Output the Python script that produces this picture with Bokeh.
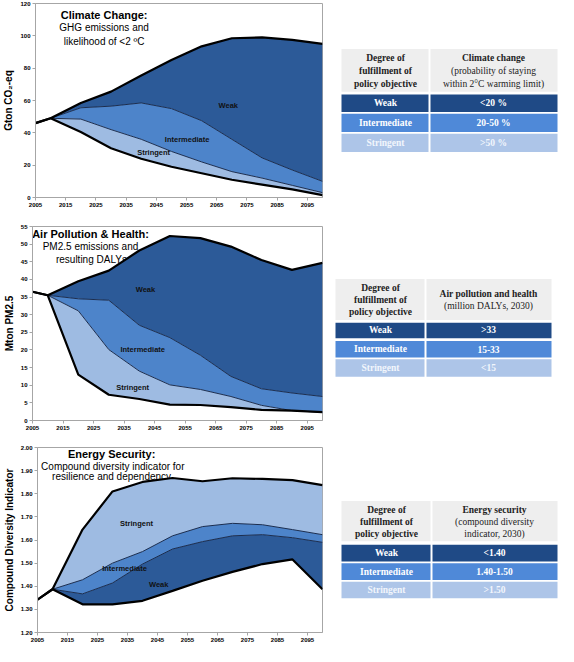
from bokeh.plotting import figure
from bokeh.layouts import column, row
from bokeh.models import Range1d, FixedTicker, PrintfTickFormatter
from bokeh.core.properties import value
from bokeh.embed import file_html
from bokeh.resources import INLINE

# ---------------- data ----------------
years = [2005, 2010, 2020, 2030, 2040, 2050, 2060, 2070, 2080, 2090, 2100]
xticks = [2005, 2015, 2025, 2035, 2045, 2055, 2065, 2075, 2085, 2095]

# Climate change: GHG emissions (Gton CO2-eq), band boundaries
cc_weak_top = [46, 49, 58.5, 65.5, 75.5, 85, 93.5, 98.5, 99, 97.5, 95]
cc_inter_top = [46, 49, 55.5, 56.5, 58.5, 55, 47.5, 36, 24.5, 17, 10]
cc_string_top = [46, 49, 48.5, 42, 36, 28.5, 22, 16, 12, 7.5, 3]
cc_bottom = [46, 49, 40.5, 30.5, 24, 19, 15, 11, 8, 5, 1.5]
cc_yticks = [0, 20, 40, 60, 80, 100, 120]

# Air pollution: PM2.5 emissions (Mton)
ap_weak_top = [36.5, 35.5, 39.5, 42.5, 48.2, 52.3, 51.7, 49.3, 45.5, 42.7, 44.7]
ap_inter_top = [36.5, 35.5, 34.5, 34.1, 27, 23.5, 18.5, 12.5, 9, 7.8, 6.8]
ap_string_top = [36.5, 35.5, 31.1, 20.1, 14, 10.1, 8.8, 6.8, 4.3, 2.8, 2.3]
ap_bottom = [36.5, 35.5, 13, 7.3, 6.1, 4.5, 4.4, 3.8, 3.0, 2.8, 2.4]
ap_yticks = [0, 5, 10, 15, 20, 25, 30, 35, 40, 45, 50, 55]

# Energy security: compound diversity indicator
es_string_top = [1.342, 1.387, 1.645, 1.81, 1.851, 1.868, 1.854, 1.867, 1.864, 1.859, 1.837]
es_inter_top = [1.342, 1.387, 1.428, 1.50, 1.55, 1.618, 1.658, 1.672, 1.666, 1.645, 1.623]
es_weak_top = [1.342, 1.387, 1.367, 1.414, 1.496, 1.561, 1.593, 1.618, 1.623, 1.61, 1.59]
es_bottom = [1.342, 1.387, 1.322, 1.322, 1.337, 1.38, 1.424, 1.462, 1.496, 1.516, 1.387]
es_yticks = [1.2, 1.3, 1.4, 1.5, 1.6, 1.7, 1.8, 1.9, 2.0]

# tables
row_labels = ["Weak", "Intermediate", "Stringent"]
head_left = ["Degree of", "fulfillment of", "policy objective"]
cc_head = ["Climate change", "(probability of staying", "within 2°C warming limit)"]
cc_vals = ["<20 %", "20-50 %", ">50 %"]
ap_head = ["Air pollution and health", "(million DALYs, 2030)"]
ap_vals = [">33", "15-33", "<15"]
es_head = ["Energy security", "(compound diversity", "indicator, 2030)"]
es_vals = ["<1.40", "1.40-1.50", ">1.50"]

# ---------------- style ----------------
C_WEAK = "#2C5A98"
C_INTER = "#4D84CA"
C_STRING = "#9EBBE2"
T_WEAK = "#1F4A86"
T_INTER = "#4F89D8"
T_STRING = "#ADC5E8"
T_HEAD = "#EEEEEE"
SANS = "Liberation Sans"
SERIF = "Liberation Serif"
GRAY = "#A6A6A6"


def make_chart(h, top_b, bottom_b, yr, yticks, fmt, ylabel, bands, inner, outer,
               titles, area_labels):
    p = figure(width=333, height=h, x_range=Range1d(2005, 2100), y_range=Range1d(*yr),
               output_backend="svg", toolbar_location=None,
               min_border_left=30, min_border_right=11,
               min_border_top=top_b, min_border_bottom=bottom_b)
    p.grid.visible = False
    p.outline_line_color = GRAY
    p.background_fill_color = "white"
    p.border_fill_color = "white"
    for ax in (p.xaxis[0], p.yaxis[0]):
        ax.axis_line_color = GRAY
        ax.major_tick_line_color = GRAY
        ax.minor_tick_line_color = None
        ax.major_tick_in = 0
        ax.major_tick_out = 3
        ax.major_label_standoff = 2
        ax.major_label_text_font = SANS
        ax.major_label_text_font_size = "6px"
        ax.major_label_text_font_style = "bold"
        ax.major_label_text_color = "black"
    p.xaxis.ticker = FixedTicker(ticks=xticks)
    p.yaxis.ticker = FixedTicker(ticks=yticks)
    p.yaxis.formatter = PrintfTickFormatter(format=fmt)
    p.yaxis.axis_label = ylabel
    p.yaxis.axis_label_text_font = SANS
    p.yaxis.axis_label_text_font_size = "10px"
    p.yaxis.axis_label_text_font_style = "bold"
    p.yaxis.axis_label_text_color = "black"
    p.yaxis.axis_label_standoff = 3

    # titles first so the areas overlap them
    for i, (tx, ty, txt) in enumerate(titles):
        p.text(x=[tx], y=[ty], text=[txt], text_align="center", text_baseline="middle",
               text_font=value(SANS), text_font_size="11px" if i == 0 else "10px",
               text_font_style="bold" if i == 0 else "normal", text_color="black")

    for y1, y2, col in bands:
        p.varea(x=years, y1=y1, y2=y2, fill_color=col)
    for y in inner:
        p.line(years, y, line_color="#1B2D4F", line_width=1)
    for y in outer:
        p.line(years, y, line_color="black", line_width=2.2)

    for lx, ly, txt in area_labels:
        p.text(x=[lx], y=[ly], text=[txt], text_align="center", text_baseline="middle",
               text_font=value(SANS), text_font_size="7.5px", text_font_style="bold",
               text_color="#111111")
    return p


def make_table(h, L, S, R, head_top, head_bot, left_lines, right_lines, rows, vals, head):
    p = figure(width=225, height=h, x_range=Range1d(0, 225), y_range=Range1d(h, 0),
               output_backend="svg", toolbar_location=None, min_border=0,
               x_axis_location=None, y_axis_location=None)
    p.grid.visible = False
    p.outline_line_color = None
    p.background_fill_color = "white"
    p.border_fill_color = "white"
    # header cells
    p.quad(left=[L, S + 1], right=[S - 1, R], top=[head_top, head_top],
           bottom=[head_bot, head_bot], fill_color=T_HEAD, line_color=None)
    for i, ly in enumerate(left_lines):
        p.text(x=[(L + S) / 2], y=[ly], text=[head_left[i]], text_align="center",
               text_baseline="middle", text_font=value(SERIF), text_font_size="9.5px",
               text_font_style="bold", text_color="#222222")
    for i, ly in enumerate(right_lines):
        p.text(x=[(S + R) / 2], y=[ly], text=[head[i]], text_align="center",
               text_baseline="middle", text_font=value(SERIF), text_font_size="9.5px",
               text_font_style="bold" if i == 0 else "normal", text_color="#222222")
    cols = [T_WEAK, T_INTER, T_STRING]
    tcols = ["white", "white", "#F2F6FC"]
    for i, (rt, rb) in enumerate(rows):
        p.quad(left=[L, S + 1], right=[S - 1, R], top=[rt, rt], bottom=[rb, rb],
               fill_color=cols[i], line_color=None)
        ym = (rt + rb) / 2
        p.text(x=[(L + S) / 2], y=[ym], text=[row_labels[i]], text_align="center",
               text_baseline="middle", text_font=value(SERIF), text_font_size="9.5px",
               text_font_style="bold", text_color=tcols[i])
        p.text(x=[(S + R) / 2], y=[ym], text=[vals[i]], text_align="center",
               text_baseline="middle", text_font=value(SERIF), text_font_size="9.5px",
               text_font_style="bold", text_color=tcols[i])
    return p


# ---------------- panels ----------------
p1 = make_chart(
    213, 3, 16, (0, 120), cc_yticks, "%d", "Gton CO₂-eq",
    [(cc_inter_top, cc_weak_top, C_WEAK), (cc_string_top, cc_inter_top, C_INTER),
     (cc_bottom, cc_string_top, C_STRING)],
    [cc_inter_top, cc_string_top], [cc_weak_top, cc_bottom],
    [(2027.7, 112.9, "Climate Change:"), (2027.7, 105.3, "GHG emissions and"),
     (2027.7, 96.7, "likelihood of <2 ºC")],
    [(2068.8, 57, "Weak"), (2055.2, 35.6, "Intermediate"), (2044.1, 27.6, "Stringent")])

p2 = make_chart(
    222, 13, 15, (0, 55), ap_yticks, "%d", "Mton PM2.5",
    [(ap_inter_top, ap_weak_top, C_WEAK), (ap_string_top, ap_inter_top, C_INTER),
     (ap_bottom, ap_string_top, C_STRING)],
    [ap_inter_top, ap_string_top], [ap_weak_top, ap_bottom],
    [(2024.0, 52.8, "Air Pollution & Health:"), (2024.0, 49.2, "PM2.5 emissions and"),
     (2024.3, 45.7, "resulting DALYs")],
    [(2042, 37.2, "Weak"), (2041.1, 20.1, "Intermediate"), (2037.8, 9.3, "Stringent")])

p3 = make_chart(
    211, 12, 14, (1.2, 2.0), es_yticks, "%.2f", "Compound Diversity Indicator",
    [(es_inter_top, es_string_top, C_STRING), (es_weak_top, es_inter_top, C_INTER),
     (es_bottom, es_weak_top, C_WEAK)],
    [es_inter_top, es_weak_top], [es_string_top, es_bottom],
    [(2029.7, 1.973, "Energy Security:"), (2030.1, 1.920, "Compound diversity indicator for"),
     (2029.7, 1.8725, "resilience and dependency")],
    [(2038, 1.672, "Stringent"), (2034, 1.475, "Intermediate"), (2045.4, 1.407, "Weak")])

t1 = make_table(213, 8, 96, 224, 50, 97, [60, 74, 88], [60, 74, 88],
                [(100, 119), (121, 141), (143, 163)], cc_vals, cc_head)
t2 = make_table(222, 2, 92, 218, 60, 107, [70, 84, 98], [77, 91],
                [(110, 128), (131, 150), (152, 172)], ap_vals, ap_head)
t3 = make_table(211, 8, 98, 224, 61, 107, [71, 85, 99], [71, 85, 99],
                [(111, 130), (132, 151), (153, 172)], es_vals, es_head)

layout = column(row(p1, t1), row(p2, t2), row(p3, t3))

with open("out.html", "w") as f:
    f.write(file_html(layout, INLINE))
